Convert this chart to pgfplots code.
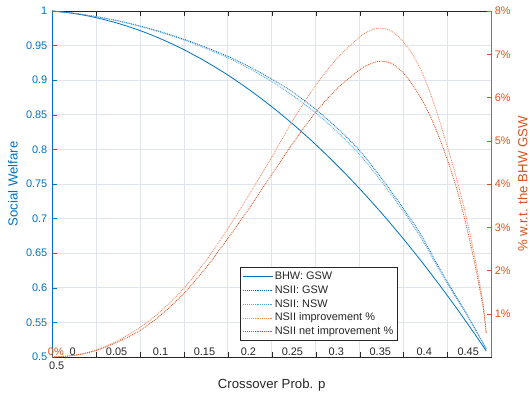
\documentclass[border=0pt]{standalone}
\usepackage{pgfplots}
\pgfplotsset{compat=1.18}
\usepackage{fontspec}
\setmainfont{Liberation Sans}
\definecolor{mblue}{rgb}{0,0.447,0.741}
\definecolor{mlblue}{rgb}{0.33,0.62,0.87}
\definecolor{morange}{rgb}{0.85,0.325,0.098}
\definecolor{mlorange}{rgb}{0.95,0.52,0.36}
\definecolor{axgray}{rgb}{0.15,0.15,0.15}
\definecolor{gridc}{rgb}{0.88,0.9,0.93}

\pgfplotstableread{
p v
0 1
0.025 0.9964
0.05 0.9904
0.075 0.9822
0.1 0.9718
0.125 0.9591
0.15 0.9442
0.175 0.9269
0.2 0.9075
0.225 0.8857
0.25 0.8617
0.275 0.8355
0.3 0.8070
0.325 0.7762
0.35 0.7432
0.375 0.7079
0.4 0.6703
0.42 0.6387
0.44 0.6055
0.46 0.5710
0.47 0.5531
0.48 0.5350
0.49 0.5164
0.494 0.5089
}\bhw

\pgfplotstableread{
p v
0 1
0.025 0.9968
0.05 0.9920
0.075 0.9859
0.1 0.9784
0.125 0.9695
0.15 0.9592
0.175 0.9475
0.2 0.9345
0.225 0.9192
0.25 0.9015
0.275 0.8819
0.3 0.8578
0.325 0.8301
0.35 0.7983
0.375 0.7580
0.4 0.7140
0.42 0.6760
0.44 0.6300
0.46 0.5870
0.47 0.5660
0.48 0.5440
0.49 0.5210
0.494 0.5117
}\nsgsw

\pgfplotstableread{
p v
0 1
0.025 0.9967
0.05 0.9919
0.075 0.9856
0.1 0.9777
0.125 0.9686
0.15 0.9581
0.175 0.9460
0.2 0.9324
0.225 0.9163
0.25 0.8981
0.275 0.8769
0.3 0.8528
0.325 0.8247
0.35 0.7926
0.375 0.7530
0.4 0.7100
0.42 0.6720
0.44 0.6270
0.46 0.5850
0.47 0.5645
0.48 0.5430
0.49 0.5205
0.494 0.5115
}\nsnsw

\pgfplotstableread{
p v
0 0
0.025 0.04
0.05 0.16
0.075 0.38
0.1 0.68
0.125 1.08
0.15 1.59
0.175 2.22
0.2 2.97
0.225 3.78
0.25 4.62
0.275 5.50
0.3 6.28
0.325 6.92
0.35 7.40
0.36 7.53
0.37 7.60
0.38 7.59
0.39 7.48
0.4 7.28
0.41 7.00
0.42 6.62
0.43 6.12
0.44 5.52
0.45 4.85
0.46 4.15
0.47 3.35
0.48 2.40
0.49 1.30
0.494 0.55
}\imp

\pgfplotstableread{
p v
0 0
0.025 0.035
0.05 0.15
0.075 0.35
0.1 0.61
0.125 0.99
0.15 1.47
0.175 2.06
0.2 2.74
0.225 3.46
0.25 4.22
0.275 4.97
0.3 5.66
0.325 6.22
0.35 6.64
0.36 6.76
0.37 6.83
0.38 6.83
0.39 6.74
0.4 6.56
0.41 6.30
0.42 5.98
0.43 5.58
0.44 5.10
0.45 4.55
0.46 3.92
0.47 3.15
0.48 2.25
0.49 1.20
0.494 0.55
}\net

\begin{document}
\begin{tikzpicture}
\pgfplotsset{
  every axis/.append style={
    width=329.625pt, height=259.5pt, scale only axis,
    xmin=0, xmax=0.5,
    tick align=inside,
    major tick length=3.75pt,
    /pgf/number format/assume math mode=true,
    every tick label/.append style={font=\fontsize{8.2}{9.8}\selectfont},
  },
}
\begin{axis}[name=main,
  at={(0pt,0pt)}, anchor=south west,
  ymin=0.5, ymax=1,
  separate axis lines,
  x axis line style={axgray, line width=0.5pt},
  y axis line style={mblue, line width=0.5pt},
  ytick={0.5,0.55,...,1.001},
  ytick pos=left,
  ytick style={mblue},
  yticklabel style={text=mblue},
  xtick={0.05,0.1,...,0.451},
  xticklabels={},
  xtick style={axgray},
  xtick pos=both,
  extra x ticks={0.025,0.075,0.125,0.175,0.225,0.275,0.325,0.375,0.425,0.475},
  extra x tick labels={0,0.05,0.1,0.15,0.2,0.25,0.3,0.35,0.4,0.45},
  extra x tick style={grid=none, major tick length=0pt,
     tick label style={anchor=center, yshift=3.9pt, xshift=-1pt, text=axgray}},
  xmajorgrids, ymajorgrids,
  grid style={gridc, line width=0.5pt},
  clip=false,
]
\addplot[mblue, line width=0.6pt, smooth] table[x=p,y=v]{\bhw};
\addplot[mblue, line width=0.6pt, smooth, dash pattern=on 0.7pt off 0.7pt] table[x=p,y=v]{\nsgsw};
\addplot[mlblue, line width=0.6pt, smooth, dash pattern=on 0.7pt off 0.7pt] table[x=p,y=v]{\nsnsw};
\end{axis}

\begin{axis}[
  at={(0pt,0pt)}, anchor=south west,
  ymin=0, ymax=8,
  axis x line=none,
  axis y line*=right,
  y axis line style={morange, line width=0.5pt},
  ytick={1,2,...,8},
  ytick style={morange},
  yticklabel={\pgfmathprintnumber{\tick}\%},
  yticklabel style={text=morange, xshift=-1pt},
  legend cell align=left,
  legend style={at={(0.787,0.046)}, anchor=south east,
    draw=axgray, fill=white, line width=0.5pt,
    font=\fontsize{8.2}{9.8}\selectfont,
    inner xsep=2pt, inner ysep=2.7pt, row sep=2.2pt,
    nodes={inner ysep=0pt, inner xsep=1.2pt, text height=6.2pt, text depth=1.9pt, text=axgray}},
  legend image code/.code={\draw[#1] (0pt,0pt) -- (22pt,0pt);},
]
\addlegendimage{mblue, line width=0.6pt}
\addlegendentry{BHW: GSW}
\addlegendimage{mblue, line width=0.6pt, dash pattern=on 0.7pt off 0.7pt}
\addlegendentry{NSII: GSW}
\addlegendimage{mlblue, line width=0.6pt, dash pattern=on 0.7pt off 0.7pt}
\addlegendentry{NSII: NSW}
\addplot[mlorange, line width=0.6pt, smooth, dash pattern=on 0.7pt off 0.7pt] table[x=p,y=v]{\imp};
\addlegendentry{NSII improvement \%}
\addplot[morange, line width=0.6pt, smooth, dash pattern=on 0.7pt off 0.7pt] table[x=p,y=v]{\net};
\addlegendentry{NSII net improvement \%}
\end{axis}

\node[font=\fontsize{8.2}{9.8}\selectfont, text=axgray] at (3.5pt,-6.75pt) {0.5};
\node[font=\fontsize{8.2}{9.8}\selectfont, text=morange] at (2.9pt,3.9pt) {0\%};
\node[font=\fontsize{9.9}{12}\selectfont, text=axgray, anchor=base] at (164.8pt,-23.25pt) {Crossover Prob. p};
\node[font=\fontsize{9.9}{12}\selectfont, text=mblue, rotate=90] at (-29.25pt,129.75pt) {Social Welfare};
\node[font=\fontsize{9.9}{12}\selectfont, text=morange, rotate=90] at (353pt,129.75pt) {\% w.r.t. the BHW GSW};

\pgfresetboundingbox
\path[use as bounding box] (-39pt,-30pt) rectangle (358.5pt,267.75pt);
\end{tikzpicture}
\end{document}
